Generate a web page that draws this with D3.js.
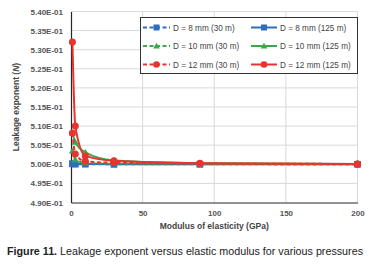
<!DOCTYPE html>
<html><head><meta charset="utf-8">
<script src="https://cdn.jsdelivr.net/npm/d3@7"></script>
<style>body{margin:0;background:#fff}svg{display:block}</style>
</head><body>
<svg id="c" width="371" height="268"></svg>
<script>
const xValues = [1, 3, 10, 30, 90, 200];
const seriesNames = ["D = 8 mm (30 m)", "D = 8 mm (125 m)", "D = 10 mm (30 m)", "D = 10 mm (125 m)", "D = 12 mm (30 m)", "D = 12 mm (125 m)"];
const d8_30  = [0.5001, 0.5000, 0.5000, 0.5000, 0.5000, 0.5000];
const d8_125 = [0.5002, 0.5001, 0.5001, 0.5000, 0.5000, 0.5000];
const d10_30 = [0.5035, 0.5012, 0.5004, 0.5002, 0.5001, 0.5000];
const d10_125= [0.5082, 0.5058, 0.5031, 0.5010, 0.5003, 0.5001];
const d12_30 = [0.5082, 0.5027, 0.5008, 0.5004, 0.5002, 0.5001];
const d12_125= [0.5320, 0.5100, 0.5022, 0.5009, 0.5003, 0.5001];
const yTicks = [0.490, 0.495, 0.500, 0.505, 0.510, 0.515, 0.520, 0.525, 0.530, 0.535, 0.540];
const xTicks = [0, 50, 100, 150, 200];

const series = [
  {name: seriesNames[0], vals: d8_30,  color: "#2f6fba", dash: true,  marker: "square"},
  {name: seriesNames[1], vals: d8_125, color: "#2f6fba", dash: false, marker: "square"},
  {name: seriesNames[2], vals: d10_30, color: "#3da64a", dash: true,  marker: "triangle"},
  {name: seriesNames[3], vals: d10_125,color: "#3da64a", dash: false, marker: "triangle"},
  {name: seriesNames[4], vals: d12_30, color: "#e8332f", dash: true,  marker: "circle"},
  {name: seriesNames[5], vals: d12_125,color: "#e8332f", dash: false, marker: "circle"}
];

const svg = d3.select("#c");
const L = 71, R = 357.5, T = 11.5, B = 202.5;
const x = d3.scaleLinear().domain([0, 200]).range([L, R]);
const y = d3.scaleLinear().domain([0.490, 0.540]).range([B, T]);

svg.append("g").selectAll("line").data(yTicks.slice(1)).join("line")
  .attr("x1", L).attr("x2", R).attr("y1", d => y(d)).attr("y2", d => y(d))
  .attr("stroke", "#d9d9d9").attr("stroke-width", 1);
svg.append("g").selectAll("line").data(xTicks.slice(1)).join("line")
  .attr("x1", d => x(d)).attr("x2", d => x(d)).attr("y1", T).attr("y2", B)
  .attr("stroke", "#d9d9d9").attr("stroke-width", 1);

const yAxis = d3.axisLeft(y).tickValues(yTicks).tickSize(0).tickPadding(8)
  .tickFormat(d => d3.format(".2e")(d).replace("e-1", "E-01"));
const ga = svg.append("g").attr("transform", `translate(${L},0)`).call(yAxis);
ga.select(".domain").attr("stroke", "#262626").attr("stroke-width", 1.2);
ga.selectAll("text").attr("font-family", "Liberation Sans, Arial, sans-serif")
  .attr("font-size", 8).attr("font-weight", "bold").attr("fill", "#555");
const xAxis = d3.axisBottom(x).tickValues(xTicks).tickSize(0).tickPadding(8);
const gx = svg.append("g").attr("transform", `translate(0,${B})`).call(xAxis);
gx.select(".domain").attr("stroke", "#262626").attr("stroke-width", 1.2);
gx.selectAll("text").attr("font-family", "Liberation Sans, Arial, sans-serif")
  .attr("font-size", 8).attr("font-weight", "bold").attr("fill", "#555");

svg.append("text").attr("transform", `translate(19,${(T + B) / 2}) rotate(-90)`)
  .attr("text-anchor", "middle").attr("font-family", "Liberation Sans, Arial, sans-serif")
  .attr("font-size", 8.5).attr("font-weight", "bold").attr("fill", "#444")
  .call(t => { t.append("tspan").text("Leakage exponent ("); t.append("tspan").attr("font-style", "italic").text("N"); t.append("tspan").text(")"); });
svg.append("text").attr("x", (L + R) / 2).attr("y", 229).attr("text-anchor", "middle")
  .attr("font-family", "Liberation Sans, Arial, sans-serif").attr("font-size", 8.5)
  .attr("font-weight", "bold").attr("fill", "#444").text("Modulus of elasticity (GPa)");

function drawMarker(g, type, color, s) {
  if (type === "square") g.append("rect").attr("x", -s).attr("y", -s).attr("width", 2 * s).attr("height", 2 * s).attr("fill", color);
  else if (type === "triangle") g.append("path").attr("d", `M0,${-s * 1.1}L${s * 1.1},${s * 0.8}L${-s * 1.1},${s * 0.8}Z`).attr("fill", color);
  else g.append("circle").attr("r", s * 1.1).attr("fill", color);
}

const line = d3.line().x(d => x(d[0])).y(d => y(d[1])).curve(d3.curveMonotoneX);
series.forEach(s => {
  const pts = xValues.map((xv, i) => [xv, s.vals[i]]);
  svg.append("path").attr("d", line(pts)).attr("fill", "none").attr("stroke", s.color)
    .attr("stroke-width", 2).attr("stroke-dasharray", s.dash ? "4,2.5" : null);
  pts.forEach(p => {
    const g = svg.append("g").attr("transform", `translate(${x(p[0])},${y(p[1])})`);
    drawMarker(g, s.marker, s.color, 3.2);
  });
});

svg.append("rect").attr("x", 140.5).attr("y", 17.5).attr("width", 217).attr("height", 56)
  .attr("fill", "#fff").attr("stroke", "#333").attr("stroke-width", 1);
const rowsY = [27.5, 46, 64.5];
series.forEach((s, i) => {
  const col = i % 2, row = Math.floor(i / 2);
  const x0 = col === 0 ? 143 : 251, x1 = col === 0 ? 170 : 277;
  const yy = rowsY[row];
  const g = svg.append("g");
  g.append("line").attr("x1", x0).attr("x2", x1).attr("y1", yy).attr("y2", yy)
    .attr("stroke", s.color).attr("stroke-width", 2).attr("stroke-dasharray", s.dash ? "4,2.5" : null);
  const m = g.append("g").attr("transform", `translate(${(x0 + x1) / 2},${yy})`);
  drawMarker(m, s.marker, s.color, 3);
  g.append("text").attr("x", x1 + 3).attr("y", yy + 3).attr("font-family", "Liberation Sans, Arial, sans-serif")
    .attr("font-size", 8.2).attr("fill", "#444").text(s.name);
});

svg.append("text").attr("x", 7).attr("y", 255).attr("font-family", "Liberation Sans Narrow, Liberation Sans, Arial, sans-serif")
  .attr("font-size", 10).attr("fill", "#222").attr("textLength", 356).attr("lengthAdjust", "spacingAndGlyphs")
  .call(t => { t.append("tspan").attr("font-weight", "bold").text("Figure 11. "); t.append("tspan").text("Leakage exponent versus elastic modulus for various pressures"); });
</script>
</body></html>
